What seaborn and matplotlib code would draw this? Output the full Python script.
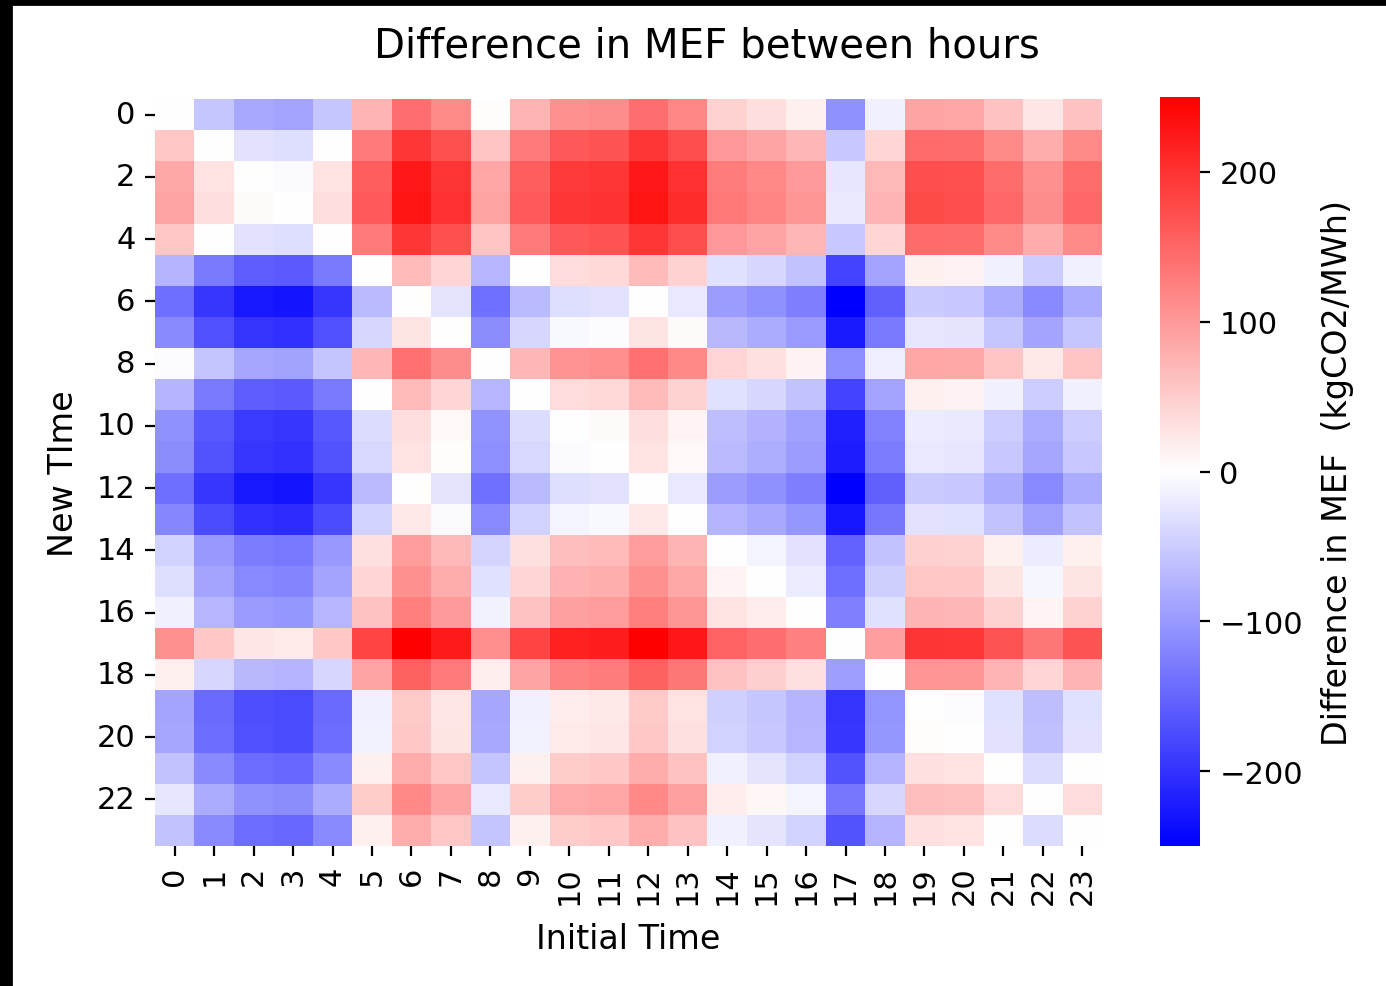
import numpy as np
import pandas as pd
import matplotlib
matplotlib.use("Agg")
import matplotlib.pyplot as plt
from matplotlib.patches import Rectangle
import seaborn as sns

# Hourly marginal emission factor, relative to hour 0 (kgCO2/MWh)
hours = list(range(24))
mef_rel = [0, -56, -84, -88, -56, 74, 141, 114, 2, 74, 108, 112,
           141, 118, 44, 33, 15, -109, -15, 89, 87, 59, 25, 59]

title_text = "Difference in MEF between hours"
xlabel_text = "Initial Time"
ylabel_text = "New TIme"
cbar_label = "Difference in MEF  (kgCO2/MWh)"

# Difference matrix: value[new, initial] = MEF[initial] - MEF[new]
m = np.array(mef_rel, dtype=float)
diff = pd.DataFrame(m[None, :] - m[:, None], index=hours, columns=hours)

plt.rcParams["font.family"] = ["DejaVu Sans"]

W, H = 1386, 987
fig = plt.figure(figsize=(W / 200, H / 200), dpi=200)
ax = fig.add_axes([155 / W, 1 - 847 / H, 947 / W, 747 / H])
cax = fig.add_axes([1160 / W, 1 - 847 / H, 40 / W, 749 / H])

sns.heatmap(diff, cmap="bwr", center=0, ax=ax, cbar_ax=cax,
            xticklabels=1, yticklabels=2,
            cbar_kws={"label": cbar_label})

ax.tick_params(axis="x", labelsize=11, rotation=90, length=3.5)
ax.tick_params(axis="y", labelsize=11, rotation=0, length=3.5)
ax.set_xlabel(xlabel_text, fontsize=12, labelpad=6.5)
ax.set_ylabel(ylabel_text, fontsize=12, labelpad=6)

fig.suptitle(title_text, fontsize=14.5, x=707 / W, y=1 - 46 / H, va="center", color="black")

cax.tick_params(labelsize=11, length=3.5)
cax.set_ylabel(cbar_label, fontsize=12, labelpad=6.5)

# screenshot border strips
fig.add_artist(Rectangle((0, 0), 11 / W, 1, transform=fig.transFigure, color="black", zorder=10))
fig.add_artist(Rectangle((0, 1 - 5 / H), 1, 5 / H, transform=fig.transFigure, color="black", zorder=10))

fig.savefig("out.png", dpi=200)
